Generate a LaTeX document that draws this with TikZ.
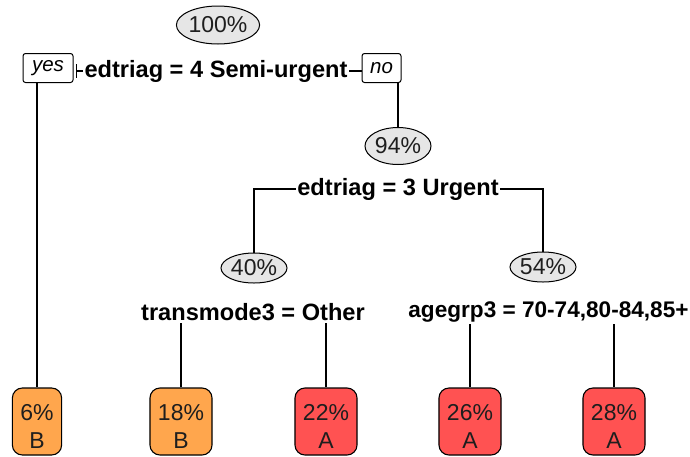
\documentclass[tikz,border=0pt]{standalone}
\usepackage{fontspec}
\setmainfont{Liberation Sans}
\usetikzlibrary{shapes.geometric,backgrounds}
\definecolor{leafB}{RGB}{255,166,77}
\definecolor{leafA}{RGB}{255,82,82}
\definecolor{pctgray}{RGB}{230,230,230}
\definecolor{txt}{RGB}{30,30,30}
\newcommand{\lfup}{\rule{0pt}{25pt}}
\tikzset{
  pct/.style={ellipse, draw, line width=1pt, fill=pctgray, inner sep=0pt,
    minimum width=66pt, minimum height=30pt, text=txt,
    font=\fontsize{23}{26}\selectfont},
  splitlbl/.style={fill=white, inner xsep=1.5pt, inner ysep=2pt,
    font=\fontsize{23.6}{26}\selectfont\bfseries},
  yesno/.style={draw, line width=1pt, rounded corners=2.5pt, fill=white,
    inner sep=0pt, minimum height=29pt, font=\fontsize{20.5}{22}\selectfont\itshape},
  leafbox/.style={draw, line width=1.1pt, rounded corners=10pt, inner xsep=8pt,
    inner ysep=0pt, minimum height=67pt, align=center, text=txt,
    font=\fontsize{23}{28}\selectfont},
  conn/.style={line width=1.2pt}
}
\begin{document}
\begin{tikzpicture}[x=1pt,y=-1pt]
\useasboundingbox (0,0) rectangle (690,456);
% percentage ellipses
\node[pct, minimum width=80pt, minimum height=38pt] (n100) at (218,25) {100\%};
\node[pct, minimum height=37pt] (n94) at (398,146) {94\%};
\node[pct] (n40) at (254,268) {40\%};
\node[pct] (n54) at (543,267) {54\%};
% split labels
\node[splitlbl] (s1) at (216,71) {edtriag = 4 Semi-urgent};
\node[splitlbl] (s2) at (398,189) {edtriag = 3 Urgent};
\node[splitlbl] (s3) at (253,312) {transmode3 = Other};
\node[splitlbl, font=\fontsize{22.6}{26}\selectfont\bfseries] (s4) at (548.5,312) {agegrp3 = 70-74,80-84,85+};
% yes / no boxes
\node[yesno, minimum width=50pt] (yes) at (48,68) {yes};
\node[yesno, minimum width=39pt] (no) at (381.5,68) {no};
% leaves
\node[leafbox, fill=leafB] (l1) at (37,421.5) {\lfup6\%\\B};
\node[leafbox, fill=leafB] (l2) at (181,421.5) {\lfup18\%\\B};
\node[leafbox, fill=leafA] (l3) at (326,421.5) {\lfup22\%\\A};
\node[leafbox, fill=leafA] (l4) at (470,421.5) {\lfup26\%\\A};
\node[leafbox, fill=leafA] (l5) at (614,421.5) {\lfup28\%\\A};
% connectors
\begin{scope}[on background layer]
\coordinate (tk) at ([xshift=3pt]yes.east |- s1.center);
\draw[conn] (tk) -- (no.west |- s1.center);
\draw[conn] (tk) ++(0,-7) -- ++(0,14);
\draw[conn] (l1.north) -- (l1.north |- yes.south);
\draw[conn] (n94.north) -- (n94.north |- no.south);
\draw[conn] (n40.north) |- (s2.center) -| (n54.north);
\draw[conn] (l2.north) |- (s3.center) -| (l3.north);
\draw[conn] (l4.north) |- (s4.center) -| (l5.north);
\end{scope}
\end{tikzpicture}
\end{document}
